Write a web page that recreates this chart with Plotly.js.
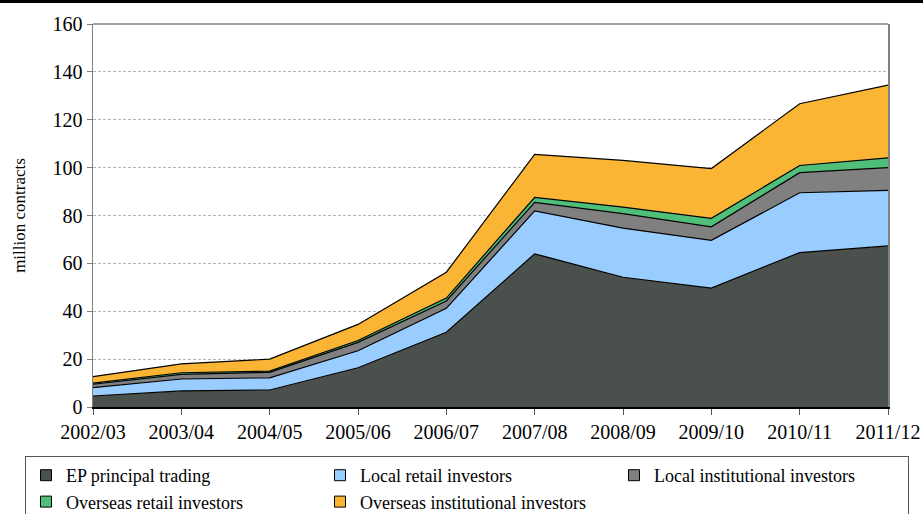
<!DOCTYPE html>
<html>
<head>
<meta charset="utf-8">
<script src="https://cdn.plot.ly/plotly-3.0.1.min.js"></script>
<style>html,body{margin:0;padding:0;background:#fff}#chart{width:923px;height:514px}</style>
</head>
<body>
<div id="chart"></div>
<script>
var years = ["2002/03","2003/04","2004/05","2005/06","2006/07","2007/08","2008/09","2009/10","2010/11","2011/12"];
var epPrincipal      = [4.6, 6.7, 7.1, 16.4, 31.2, 64.0, 54.2, 49.7, 64.5, 67.3];
var localRetail      = [3.5, 5.0, 5.1, 7.1, 10.0, 17.9, 20.5, 19.9, 25.0, 23.2];
var localInst        = [1.4, 1.9, 2.3, 3.5, 3.1, 3.6, 6.1, 5.7, 8.4, 9.5];
var overseasRetail   = [0.5, 0.7, 0.5, 0.8, 1.2, 2.1, 2.7, 3.5, 3.0, 4.1];
var overseasInst     = [2.7, 3.7, 5.0, 6.7, 10.8, 17.9, 19.5, 20.8, 25.8, 30.4];
var seriesNames = ["EP principal trading","Local retail investors","Local institutional investors","Overseas retail investors","Overseas institutional investors"];
var yTicks = [0,20,40,60,80,100,120,140,160];

var seriesData = [epPrincipal, localRetail, localInst, overseasRetail, overseasInst];
var colors = ["#4a514c","#99ccff","#808080","#4fbf7a","#f9b533"];
var font = "Liberation Serif, Times New Roman, serif";

var traces = [];
seriesData.forEach(function(vals, i){
  traces.push({
    x: years, y: vals, type: "scatter", mode: "lines",
    stackgroup: "one",
    line: {color: "#000", width: 1.2},
    fillcolor: colors[i],
    name: seriesNames[i], showlegend: false, hoverinfo: "skip"
  });
});
seriesNames.forEach(function(n, i){
  traces.push({
    x: [null], y: [null], type: "scatter", mode: "markers",
    marker: {symbol: "square", size: 11, color: colors[i], line: {color: "#000", width: 1}},
    name: n, showlegend: true, hoverinfo: "skip"
  });
});

var layout = {
  width: 923, height: 514,
  margin: {l: 93, r: 35, t: 24, b: 107, autoexpand: false},
  paper_bgcolor: "#fff", plot_bgcolor: "#fff",
  font: {family: font, color: "#000", size: 20},
  showlegend: true,
  xaxis: {
    type: "category", range: [0, 9],
    showgrid: false, zeroline: false,
    showline: true, linecolor: "#000", linewidth: 2,
    ticks: "outside", ticklen: 6, tickcolor: "#555", tickwidth: 1,
    tickfont: {family: font, size: 20, color: "#000"}
  },
  yaxis: {
    range: [0, 160], tickvals: yTicks,
    showgrid: true, gridcolor: "#b4b4b4", griddash: "3px,2px", gridwidth: 1,
    zeroline: false,
    showline: true, linecolor: "#808080", linewidth: 1.5, mirror: true,
    ticks: "outside", ticklen: 5, tickcolor: "#808080", tickwidth: 1,
    tickfont: {family: font, size: 20, color: "#000"},
    title: {text: "million contracts", font: {family: font, size: 17, color: "#000"}, standoff: 22}
  },
  legend: {
    orientation: "h",
    xref: "paper", yref: "paper",
    x: (25 - 93) / 795, xanchor: "left",
    y: -(456 - 407) / 383, yanchor: "top",
    bordercolor: "#555", borderwidth: 1,
    bgcolor: "#fff",
    entrywidth: 249, entrywidthmode: "pixels",
    font: {family: font, size: 18, color: "#000"},
    traceorder: "normal"
  },
  shapes: [
    {type: "line", xref: "paper", yref: "paper", x0: -93/795, x1: 1 + 35/795, y0: 1 + 22.5/383, y1: 1 + 22.5/383,
     line: {color: "#000", width: 3}},
    {type: "line", xref: "paper", yref: "paper", x0: 0, x1: 1, y0: 1, y1: 1,
     line: {color: "#808080", width: 1.5}}
  ]
};

Plotly.newPlot("chart", traces, layout, {displayModeBar: false, staticPlot: true});
</script>
</body>
</html>
